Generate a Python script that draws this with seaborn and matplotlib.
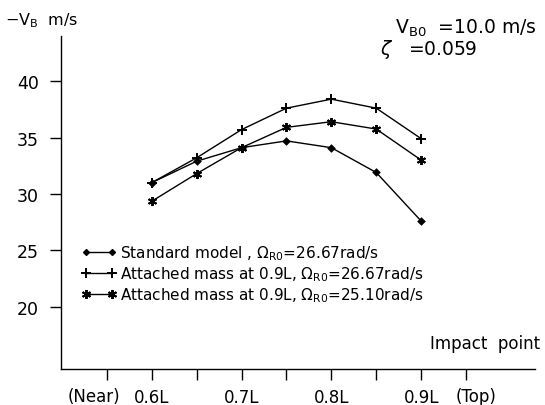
import matplotlib
matplotlib.use("Agg")
import matplotlib.pyplot as plt
import seaborn as sns
import pandas as pd
from matplotlib.lines import Line2D

impact = [0.60, 0.65, 0.70, 0.75, 0.80, 0.85, 0.90]
standard = [31.0, 32.9, 34.1, 34.7, 34.1, 31.9, 27.6]
mass_2667 = [31.0, 33.2, 35.7, 37.6, 38.4, 37.6, 34.9]
mass_2510 = [29.35, 31.8, 34.1, 35.9, 36.4, 35.75, 33.0]
series_labels = [
    r"Standard model , $\Omega_{\mathrm{R0}}$=26.67rad/s",
    r"Attached mass at 0.9L, $\Omega_{\mathrm{R0}}$=26.67rad/s",
    r"Attached mass at 0.9L, $\Omega_{\mathrm{R0}}$=25.10rad/s",
]
xtick_vals = [0.55, 0.60, 0.65, 0.70, 0.75, 0.80, 0.85, 0.90, 0.95]
xtick_labels = ["", "0.6L", "", "0.7L", "", "0.8L", "", "0.9L", ""]
ytick_vals = [20, 25, 30, 35, 40]

sns.set_style("ticks")
plt.rcParams['font.family'] = ['DejaVu Sans']
plt.rcParams['text.color'] = 'black'
plt.rcParams['xtick.labelcolor'] = 'black'
plt.rcParams['ytick.labelcolor'] = 'black'

df = pd.DataFrame({
    "x": impact * 3,
    "y": standard + mass_2667 + mass_2510,
    "series": [series_labels[0]] * 7 + [series_labels[1]] * 7 + [series_labels[2]] * 7,
})

fig = plt.figure(figsize=(5.45, 4.06), dpi=100)
ax = fig.add_axes([0.112, 0.089, 0.870, 0.820])

markers = {series_labels[0]: "D", series_labels[1]: "+", series_labels[2]: (6, 2, 0)}
sizes = {series_labels[0]: 3, series_labels[1]: 7, series_labels[2]: 6.5}
for lab in series_labels:
    sub = df[df.series == lab]
    sns.lineplot(data=sub, x="x", y="y", ax=ax, color="black", lw=1.0,
                 marker=markers[lab], markersize=sizes[lab], markeredgewidth=1.4,
                 markeredgecolor="black", markerfacecolor="black", legend=False)

ax.set_xlim(0.499, 1.027)
ax.set_ylim(14.5, 44)
ax.set_xticks(xtick_vals)
ax.set_xticklabels(xtick_labels, fontsize=12)
ax.set_yticks(ytick_vals)
ax.set_yticklabels([str(v) for v in ytick_vals], fontsize=12.5)
ax.tick_params(axis="both", direction="out", length=8, width=1, color="black")
ax.tick_params(axis="y", pad=8)
ax.tick_params(axis="x", pad=6)
sns.despine(ax=ax)
for s in ("left", "bottom"):
    ax.spines[s].set_linewidth(1)
    ax.spines[s].set_color("black")
ax.set_xlabel("")
ax.set_ylabel("")

ax.text(0.5644, -0.0555, "(Near)", transform=ax.get_xaxis_transform(), fontsize=12,
        ha="right", va="top")
ax.text(0.938, -0.0555, "(Top)", transform=ax.get_xaxis_transform(), fontsize=12,
        ha="left", va="top")
ax.text(1.01, 0.05, "Impact  point", transform=ax.transAxes, fontsize=12, ha="right", va="bottom")

fig.text(0.01, 0.925, r"$-$V$_{\mathrm{B}}$  m/s", fontsize=11.5, ha="left", va="bottom")
fig.text(0.985, 0.905, r"V$_{\mathrm{B0}}$  =10.0 m/s", fontsize=13.5, ha="right", va="bottom")
fig.text(0.697, 0.85, r"$\zeta$   =0.059", fontsize=13.5, ha="left", va="bottom")

handles = [
    Line2D([], [], color="black", lw=1.0, marker="D", markersize=3),
    Line2D([], [], color="black", lw=1.0, marker="+", markersize=7, markeredgewidth=1.4),
    Line2D([], [], color="black", lw=1.0, marker=(6, 2, 0), markersize=6.5, markeredgewidth=1.4),
]
leg = ax.legend(handles, series_labels, loc="upper left", bbox_to_anchor=(0.03, 0.395),
                frameon=False, fontsize=11, handlelength=2.3, handletextpad=0.2,
                labelspacing=0.15, borderaxespad=0, numpoints=2, markerfirst=True)

fig.savefig("out.png", dpi=100)
